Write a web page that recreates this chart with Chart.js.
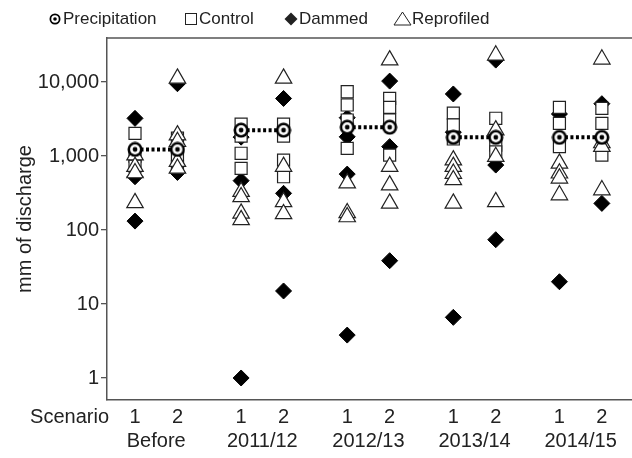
<!DOCTYPE html>
<html>
<head>
<meta charset="utf-8">
<script src="https://cdn.jsdelivr.net/npm/chart.js@4.4.1/dist/chart.umd.min.js"></script>
<style>
  html, body { margin: 0; padding: 0; background: #fff; }
  #wrap { width: 632px; height: 458px; }
</style>
</head>
<body>
<div id="wrap"><canvas id="chart"></canvas></div>
<script>
const years = ['Before', '2011/12', '2012/13', '2013/14', '2014/15'];
const scenarios = ['1', '2'];
const yTicks = [1, 10, 100, 1000, 10000];

// precipitation per period (same for both scenarios)
const precipitation = [1230, 2240, 2450, 1790, 1790];

// one list per column: Before-1, Before-2, 2011/12-1, 2011/12-2, ...
const control = [
  [2030, 1000, 730],
  [1750, 1000, 720],
  [2700, 1860, 1090, 680],
  [2700, 1860, 880, 525],
  [7400, 4900, 3070, 1270],
  [6030, 4550, 3070, 1030],
  [3800, 2630, 1700],
  [3240, 1400, 1140],
  [4550, 2770, 1340],
  [4400, 2770, 1030]
];
const dammed = [
  [3230, 525, 132],
  [9500, 600],
  [1800, 465, 1],
  [6000, 313, 15],
  [3300, 1820, 570, 3.8],
  [10300, 1340, 38.5],
  [6900, 2100, 6.6],
  [19800, 755, 74],
  [3700, 20],
  [5100, 229]
];
const reprofiled = [
  [1030, 720, 590, 233],
  [11200, 1920, 1560, 840, 680],
  [330, 280, 168, 137],
  [11200, 720, 240, 165],
  [430, 170, 150],
  [19800, 720, 405, 229],
  [880, 720, 580, 475, 229],
  [23000, 2240, 980, 240],
  [795, 585, 500, 297],
  [20300, 1500, 1340, 347]
];

const ink = '#222';
const axisColor = '#555';

// column position: scenarios 1 unit apart, periods 2.5 units apart
function colX(c) { return 1 + Math.floor(c / 2) * 2.5 + (c % 2); }

function columnPoints(cols) {
  return cols.flatMap((vals, c) => vals.map(v => ({ x: colX(c), y: v })));
}

const precipPoints = precipitation.flatMap((p, i) => [
  { x: colX(2 * i), y: p },
  { x: colX(2 * i + 1), y: p },
  { x: colX(2 * i + 1) + 0.5, y: null }
]);

// x ticks: scenario numbers plus a period label in between
const xTicks = [];
years.forEach((yr, i) => {
  xTicks.push({ value: colX(2 * i), label: scenarios[0] });
  xTicks.push({ value: colX(2 * i) + 0.5, label: ['', yr] });
  xTicks.push({ value: colX(2 * i + 1), label: scenarios[1] });
});

// bullseye marker for precipitation
function bullseye(size) {
  const c = document.createElement('canvas');
  c.width = size; c.height = size;
  const g = c.getContext('2d');
  const m = size / 2;
  g.fillStyle = '#000';
  g.beginPath(); g.arc(m, m, m - 0.5, 0, Math.PI * 2); g.fill();
  g.fillStyle = '#fff';
  g.beginPath(); g.arc(m, m, m * 0.62, 0, Math.PI * 2); g.fill();
  g.fillStyle = '#000';
  g.beginPath(); g.arc(m, m, m * 0.3, 0, Math.PI * 2); g.fill();
  return c;
}
const precipMark = bullseye(16);
const legendMark = bullseye(12);

const extras = {
  id: 'extras',
  afterDraw(chart) {
    const ctx = chart.ctx;
    const area = chart.chartArea;
    ctx.save();
    // top frame line
    ctx.strokeStyle = axisColor;
    ctx.lineWidth = 1.5;
    ctx.beginPath();
    ctx.moveTo(area.left, area.top);
    ctx.lineTo(area.right, area.top);
    ctx.stroke();

    // "Scenario" row label
    ctx.fillStyle = ink;
    ctx.font = '20px "Liberation Sans", Arial, sans-serif';
    ctx.textAlign = 'right';
    ctx.textBaseline = 'middle';
    ctx.fillText('Scenario', area.left + 2, area.bottom + 17);

    // legend
    const ly = 19;
    ctx.font = '17px "Liberation Sans", Arial, sans-serif';
    ctx.textAlign = 'left';
    ctx.textBaseline = 'middle';
    ctx.drawImage(legendMark, 55 - 6, ly - 6);
    ctx.fillText('Precipitation', 63, ly);

    ctx.lineWidth = 1;
    ctx.strokeStyle = ink;
    ctx.strokeRect(185.5, ly - 5.5, 11, 11);
    ctx.fillText('Control', 199, ly);

    ctx.beginPath();
    ctx.moveTo(291, ly - 6.5); ctx.lineTo(297.5, ly);
    ctx.lineTo(291, ly + 6.5); ctx.lineTo(284.5, ly);
    ctx.closePath(); ctx.fill();
    ctx.fillText('Dammed', 299, ly);

    ctx.beginPath();
    ctx.moveTo(402.5, ly - 7); ctx.lineTo(411, ly + 6);
    ctx.lineTo(394, ly + 6); ctx.closePath(); ctx.stroke();
    ctx.fillText('Reprofiled', 412, ly);
    ctx.restore();
  }
};

new Chart(document.getElementById('chart'), {
  type: 'scatter',
  data: {
    datasets: [
      {
        label: 'Precipitation',
        data: precipPoints,
        order: 0,
        showLine: true,
        spanGaps: false,
        borderColor: '#000',
        borderWidth: 4,
        borderDash: [3, 2.5],
        pointStyle: precipMark,
        pointRadius: 8
      },
      {
        label: 'Reprofiled',
        data: columnPoints(reprofiled),
        order: 1,
        pointStyle: 'triangle',
        pointRadius: 9.5,
        pointBackgroundColor: '#fff',
        pointBorderColor: ink,
        pointBorderWidth: 1.2
      },
      {
        label: 'Control',
        data: columnPoints(control),
        order: 2,
        pointStyle: 'rect',
        pointRadius: 8.5,
        pointBackgroundColor: '#fff',
        pointBorderColor: ink,
        pointBorderWidth: 1.2
      },
      {
        label: 'Dammed',
        data: columnPoints(dammed),
        order: 3,
        pointStyle: 'rectRot',
        pointRadius: 8,
        pointBackgroundColor: '#000',
        pointBorderColor: '#000',
        pointBorderWidth: 1
      }
    ]
  },
  options: {
    responsive: true,
    maintainAspectRatio: false,
    animation: false,
    layout: { autoPadding: false, padding: { top: 38, right: 0, bottom: 0, left: 0 } },
    plugins: {
      legend: { display: false },
      tooltip: { enabled: false }
    },
    scales: {
      x: {
        type: 'linear',
        min: 0.34,
        max: 12.71,
        afterBuildTicks: (scale) => { scale.ticks = xTicks.map(t => ({ value: t.value })); },
        afterFit: (scale) => {
          scale.height = 58;
          scale.paddingLeft = 0;
          scale.paddingRight = 0;
        },
        ticks: {
          autoSkip: false,
          maxRotation: 0,
          padding: 5,
          color: ink,
          font: { family: '"Liberation Sans", Arial, sans-serif', size: 20 },
          callback: (value) => {
            const t = xTicks.find(k => Math.abs(k.value - value) < 1e-6);
            return t ? t.label : '';
          }
        },
        grid: { display: false, drawTicks: false },
        border: { display: true, color: axisColor, width: 1.5 }
      },
      y: {
        type: 'logarithmic',
        min: 0.504,
        max: 39400,
        afterBuildTicks: (scale) => { scale.ticks = yTicks.map(v => ({ value: v })); },
        afterFit: (scale) => {
          scale.width = 107;
          scale.paddingTop = 0;
          scale.paddingBottom = 0;
        },
        ticks: {
          padding: 2,
          color: ink,
          font: { family: '"Liberation Sans", Arial, sans-serif', size: 20 },
          callback: (value) => Number(value).toLocaleString('en-US')
        },
        grid: {
          drawOnChartArea: false,
          drawTicks: true,
          tickLength: 6,
          color: axisColor,
          lineWidth: 1.3
        },
        border: { display: true, color: axisColor, width: 1.5 },
        title: {
          display: true,
          text: 'mm of discharge',
          color: ink,
          font: { family: '"Liberation Sans", Arial, sans-serif', size: 20 },
          padding: { top: 13, bottom: 0 }
        }
      }
    }
  },
  plugins: [extras]
});
</script>
</body>
</html>
